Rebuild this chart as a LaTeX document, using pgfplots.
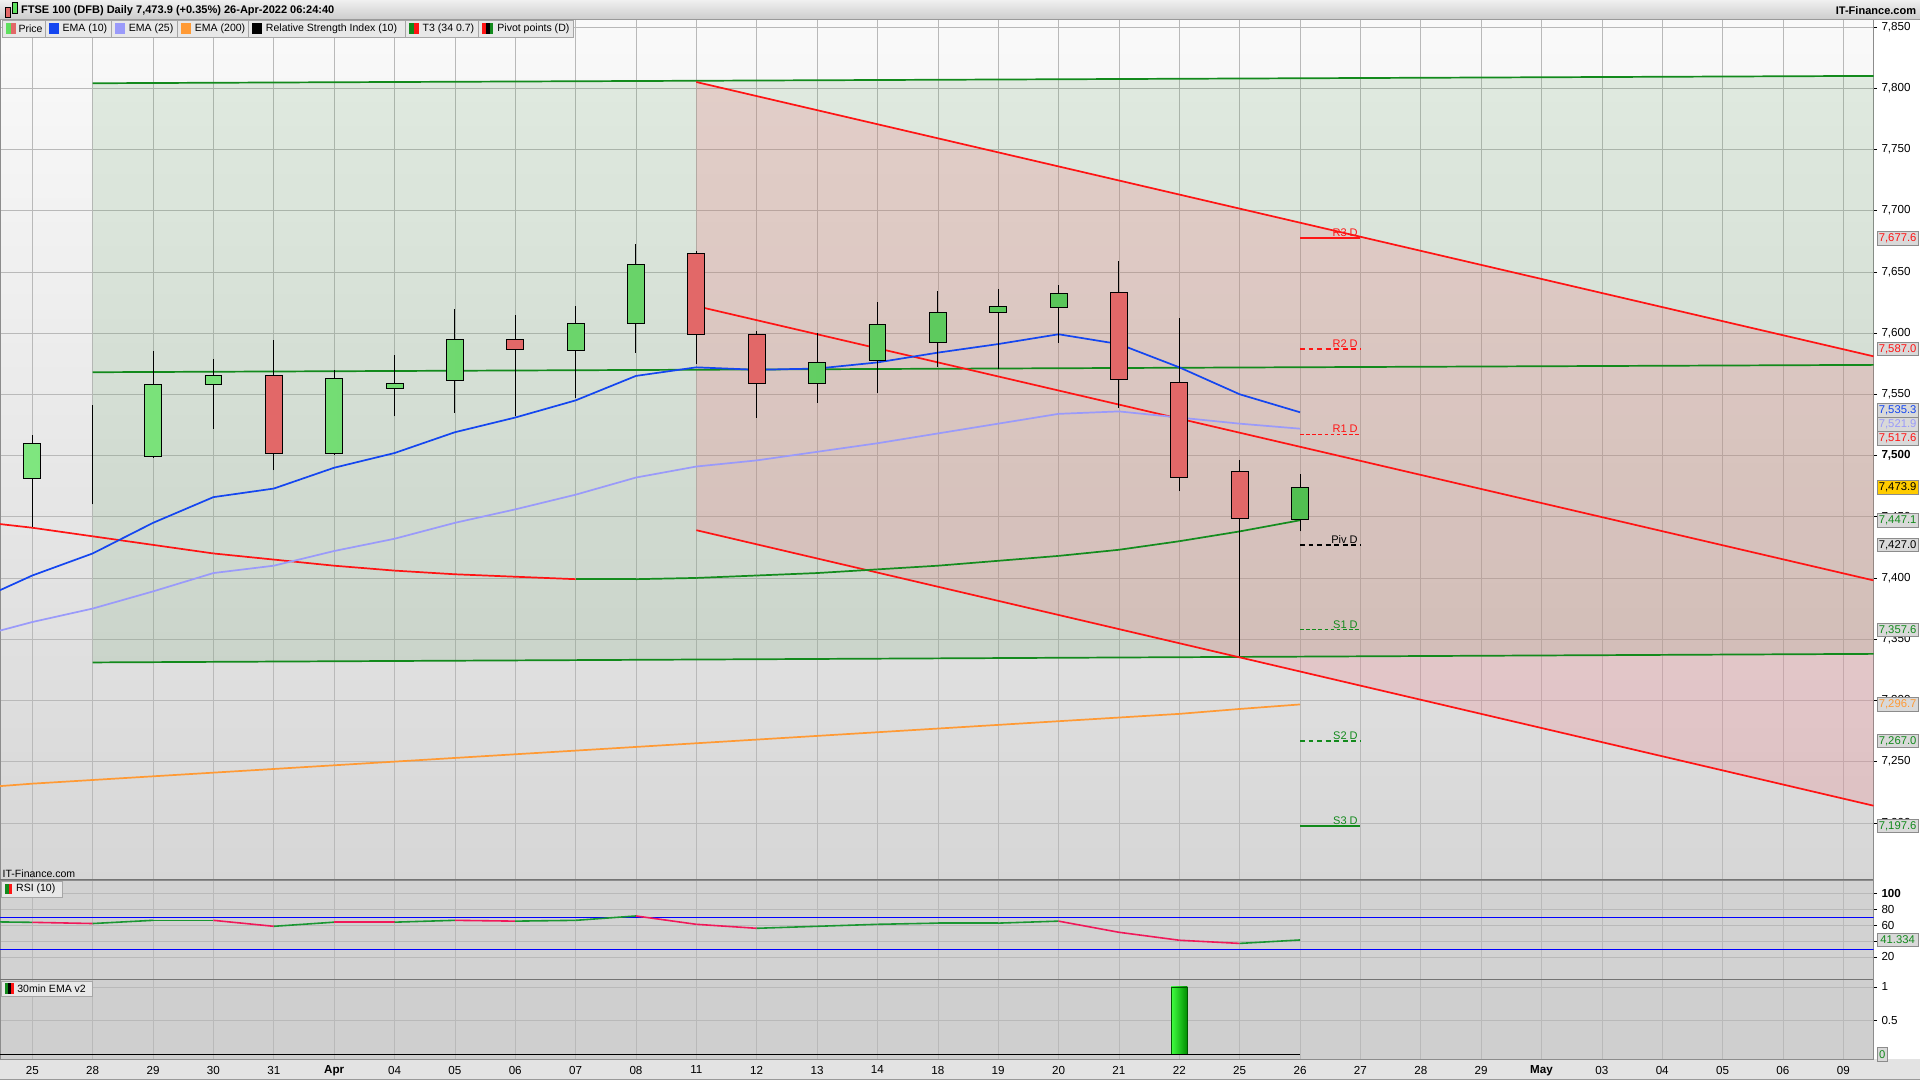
\documentclass[border=0pt]{standalone}
\usepackage{pgfplots}
\pgfplotsset{compat=1.18}
\usepackage{pgfplotstable}
\usepackage{fontspec}
\setmainfont{Liberation Sans}

\definecolor{gridc}{HTML}{B9B9B9}
\definecolor{ematen}{HTML}{1446F0}
\definecolor{ematwf}{HTML}{9A9AFA}
\definecolor{ematwo}{HTML}{FF9A35}
\definecolor{lgreen}{HTML}{128A1C}
\definecolor{lred}{HTML}{FF1414}
\definecolor{cgreen}{HTML}{5FE05F}
\definecolor{cred}{HTML}{E26868}
\definecolor{zgreen}{HTML}{589B58}
\definecolor{zred}{HTML}{F0707A}
\definecolor{panelc}{HTML}{D2D2D2}
\definecolor{boxc}{HTML}{D9D9D9}
\definecolor{gold}{HTML}{FFCC00}

% daily candles, index 0 = 25 Mar 2022
\pgfplotstableread{
i o h l c
0 7481 7517 7442 7510
1 7500 7541 7460 7500
2 7499 7585 7498 7558
3 7558 7579 7522 7565
4 7565 7594 7488 7502
5 7502 7570 7500 7563
6 7555 7582 7532 7559
7 7561 7620 7535 7595
8 7595 7615 7532 7587
9 7586 7622 7547 7608
10 7608 7673 7584 7656
11 7665 7667 7575 7599
12 7599 7602 7531 7559
13 7559 7600 7543 7576
14 7578 7625 7551 7607
15 7592 7634 7572 7617
16 7617 7636 7571 7622
17 7621 7639 7592 7632
18 7633 7659 7539 7562
19 7560 7612 7471 7482
20 7487 7496.4 7336.4 7448.2
21 7447.8 7485 7438 7473.9
}\candles

% indicators (tm, rm: colour of the following segment, 0 red / 1 green)
\pgfplotstableread{
i      e10    e25    e200   t3     tm rsi    rm
-0.535 7390   7357   7230   7444   0  64.0   1
0      7402   7364   7232   7441   0  63.5   0
1      7420   7375   7235   7434   0  62.0   1
2      7445   7389   7238   7427   0  66.0   1
3      7466   7404   7241   7420   0  66.0   0
4      7473   7410   7244   7415   0  58.5   1
5      7490   7422   7247   7410   0  63.7   0
6      7502   7432   7250   7406   0  63.7   1
7      7519   7445   7253   7403   0  66.0   0
8      7531   7456   7256   7401   0  65.0   1
9      7545   7468   7259   7399   1  66.0   1
10     7565   7482   7262   7399   1  71.5   0
11     7572   7491   7265   7400   1  61.0   0
12     7570   7496   7268   7402   1  56.0   1
13     7571   7503   7271   7404   1  58.5   1
14     7576   7510   7274   7407   1  61.0   1
15     7584   7518   7277   7410   1  62.5   1
16     7591   7526   7280   7414   1  62.5   1
17     7599   7534   7283   7418   1  65.0   0
18     7591   7536   7286   7423   1  51.0   0
19     7572   7531   7289   7430   1  41.0   0
20     7550   7526   7293   7438   1  37.0   1
21     7535.3 7521.9 7296.7 7447.1 1  41.334 1
}\ind

\pgfplotsset{
  panel/.style={scale only axis, anchor=south west, at={(0pt,0pt)}, width=1530pt,
    xmin=-0.535, xmax=30.5,
    xtick={0,...,30}, xticklabels={}, xtick style={draw=none},
    ytick pos=right, yticklabel pos=right, tick align=outside,
    major tick length=3pt, ytick style={black, thin},
    grid=major, major grid style={gridc, line width=0.5pt},
    axis line style={draw=black!45},
    tick label style={font=\fontsize{9.5}{10}\selectfont},
    clip mode=individual},
}
\tikzset{
  vbox/.style={draw=black!45, fill=boxc, inner sep=0.8pt, anchor=west, xshift=3pt,
    font=\fontsize{9.2}{10}\selectfont, minimum width=33pt, minimum height=11pt},
  piv/.style={anchor=south east, inner sep=1pt, xshift=-1pt, font=\fontsize{9}{10}\selectfont},
  lb/.style={fill=black!9, draw=black!35, line width=0.5pt},
  lt/.style={anchor=west, inner sep=0pt, font=\fontsize{8.6}{9}\selectfont},
}

\begin{document}
\begin{tikzpicture}[x=1pt,y=1pt]
\fill[black!15] (0,0) rectangle (1568,882);
\fill[white] (1530,17) rectangle (1568,866);
\fill[black!11] (0,0) rectangle (1568,17);

% ---------------- price panel ----------------
\begin{scope}[shift={(0pt,164pt)}]
\begin{axis}[panel, height=702pt,
  ymin=7154, ymax=7856,
  axis background/.style={shade, top color=black!2, bottom color=black!16},
  ytick={7200,7250,...,7850},
  yticklabels={{7,200},{7,250},{7,300},{7,350},{7,400},{7,450},{\textbf{7,500}},{7,550},{7,600},{7,650},{7,700},{7,750},{7,800},{7,850}},
  colormap={tt}{rgb255=(255,20,20) rgb255=(20,140,30)},
  point meta min=0, point meta max=1]
  % channel zones
  \addplot [draw=none, fill=zgreen, fill opacity=0.15] coordinates {(1,7331) (30.5,7338) (30.5,7810) (1,7804)} -- cycle;
  \addplot [draw=none, fill=zred, fill opacity=0.22] coordinates {(11,7439) (30.5,7214) (30.5,7581) (11,7805)} -- cycle;
  % horizontal channel
  \addplot [lgreen, line width=1.4pt] coordinates {(1,7804) (30.5,7810)};
  \addplot [lgreen, line width=1.4pt] coordinates {(1,7568) (30.5,7574)};
  \addplot [lgreen, line width=1.4pt] coordinates {(1,7331) (30.5,7338)};
  % falling channel
  \addplot [lred, line width=1.4pt] coordinates {(11,7805) (30.5,7581)};
  \addplot [lred, line width=1.4pt] coordinates {(11,7622) (30.5,7398)};
  \addplot [lred, line width=1.4pt] coordinates {(11,7439) (30.5,7214)};
  % T3, EMAs
  \addplot [mesh, shader=flat corner, point meta=explicit, line width=1.4pt] table [x=i, y=t3, meta=tm] \ind;
  \addplot [ematwo, line width=1.4pt] table [x=i, y=e200] \ind;
  \addplot [ematwf, line width=1.4pt] table [x=i, y=e25] \ind;
  \addplot [ematen, line width=1.4pt] table [x=i, y=e10] \ind;
  % pivot points
  \addplot [lred, line width=1.4pt] coordinates {(21,7677.6) (22,7677.6)};
  \addplot [lred, line width=1.4pt, dash pattern=on 4pt off 3pt] coordinates {(21,7587.0) (22,7587.0)};
  \addplot [lred, line width=0.7pt, dash pattern=on 3pt off 2pt] coordinates {(21,7517.6) (22,7517.6)};
  \addplot [black, line width=1.4pt, dash pattern=on 4pt off 3pt] coordinates {(21,7427.0) (22,7427.0)};
  \addplot [lgreen, line width=0.7pt, dash pattern=on 3pt off 2pt] coordinates {(21,7357.6) (22,7357.6)};
  \addplot [lgreen, line width=1.4pt, dash pattern=on 4pt off 3pt] coordinates {(21,7267.0) (22,7267.0)};
  \addplot [lgreen, line width=1.4pt] coordinates {(21,7197.6) (22,7197.6)};
  \node[piv, text=lred] at (axis cs:22,7677.6) {R3 D};
  \node[piv, text=lred] at (axis cs:22,7587.0) {R2 D};
  \node[piv, text=lred] at (axis cs:22,7517.6) {R1 D};
  \node[piv, text=black] at (axis cs:22,7427.0) {Piv D};
  \node[piv, text=lgreen] at (axis cs:22,7357.6) {S1 D};
  \node[piv, text=lgreen] at (axis cs:22,7267.0) {S2 D};
  \node[piv, text=lgreen] at (axis cs:22,7197.6) {S3 D};
  % wicks
  \addplot [draw=none, error bars/.cd, y dir=plus, y explicit, error mark=none,
    error bar style={draw=black, solid, line width=0.8pt}]
    table [x=i, y=l, y error expr=\thisrow{h}-\thisrow{l}] \candles;
\end{axis}

% candle bodies on top
\begin{axis}[panel, height=702pt, ymin=7154, ymax=7856,
  hide axis, ybar stacked, bar width=0.28]
  \addplot [draw=none, fill=none] table [x=i, y expr={min(\thisrow{o},\thisrow{c})}] \candles;
  \addplot [draw=black, line width=0.7pt, left color=cgreen!80!white, right color=cgreen!85!black] table [x=i, y expr={max(\thisrow{c}-\thisrow{o},0)}] \candles;
  \addplot [draw=black, line width=0.7pt, fill=cred] table [x=i, y expr={max(\thisrow{o}-\thisrow{c},0)}] \candles;
  \node[vbox, text=lred] at (axis cs:30.5,7677.6) {7,677.6};
  \node[vbox, text=lred] at (axis cs:30.5,7587.0) {7,587.0};
  \node[vbox, text=ematen] at (axis cs:30.5,7537) {7,535.3};
  \node[vbox, text=ematwf] at (axis cs:30.5,7525.5) {7,521.9};
  \node[vbox, text=lred] at (axis cs:30.5,7514) {7,517.6};
  \node[vbox, text=black, fill=gold] at (axis cs:30.5,7473.9) {7,473.9};
  \node[vbox, text=lgreen] at (axis cs:30.5,7447.1) {7,447.1};
  \node[vbox, text=black] at (axis cs:30.5,7427.0) {7,427.0};
  \node[vbox, text=lgreen] at (axis cs:30.5,7357.6) {7,357.6};
  \node[vbox, text=ematwo] at (axis cs:30.5,7296.7) {7,296.7};
  \node[vbox, text=lgreen] at (axis cs:30.5,7267.0) {7,267.0};
  \node[vbox, text=lgreen] at (axis cs:30.5,7197.6) {7,197.6};
\end{axis}
\end{scope}

% ---------------- RSI panel ----------------
\begin{scope}[shift={(0pt,82pt)}]
\begin{axis}[panel, height=81pt,
  ymin=-8.46, ymax=116.2,
  axis background/.style={fill=panelc},
  ytick={20,40,60,80,100}, yticklabels={20,,60,80,\textbf{100}},
  colormap={rg}{rgb255=(240,25,90) rgb255=(26,150,50)},
  point meta min=0, point meta max=1]
  \addplot [blue, line width=0.6pt] coordinates {(-0.535,70) (30.5,70)};
  \addplot [blue, line width=0.6pt] coordinates {(-0.535,30) (30.5,30)};
  \addplot [mesh, shader=flat corner, point meta=explicit, line width=1.3pt] table [x=i, y=rsi, meta=rm] \ind;
  \node[vbox, text=lgreen] at (axis cs:30.5,41.334) {41.334};
\end{axis}
\end{scope}

% ---------------- 30min EMA v2 panel ----------------
\begin{scope}[shift={(0pt,17pt)}]
\begin{axis}[panel, height=65pt,
  ymin=-0.0727, ymax=1.109,
  axis background/.style={fill=black!19},
  ytick={0.5,1}, yticklabels={0.5,1},
  xticklabels={25,28,29,30,31,\textbf{Apr},04,05,06,07,08,11,12,13,14,18,19,20,21,22,25,26,27,28,29,\textbf{May},03,04,05,06,09},
  xticklabel style={yshift=1pt}]
  \addplot [ybar, bar width=0.27, draw=green!35!black, line width=0.6pt,
    left color=green!75!white, right color=green!55!black] coordinates {(19,1)};
  \addplot [black, line width=0.9pt] coordinates {(-0.535,0) (21,0)};
  \node[vbox, text=lgreen, minimum width=8pt] at (axis cs:30.5,0) {0};
\end{axis}
\end{scope}

% ---------------- header and legend ----------------
\shade[top color=black!6, bottom color=black!20] (0,866) rectangle (1568,882);
\draw[black!40] (0,866) -- (1568,866);
\fill[cred] (4,868) rectangle (8,876); \draw[black, line width=0.4pt] (4,868) rectangle (8,876);
\fill[cgreen] (10,871) rectangle (14,880); \draw[black, line width=0.4pt] (10,871) rectangle (14,880);
\node[anchor=west, font=\bfseries\fontsize{9}{10}\selectfont, inner sep=0pt] at (17,873.5)
  {FTSE 100 (DFB) Daily 7,473.9 (+0.35\%) 26-Apr-2022 06:24:40};
\node[anchor=east, font=\bfseries\fontsize{9}{10}\selectfont, inner sep=0pt] at (1565,873.5) {IT-Finance.com};

% Price
\draw[lb] (2,851.5) rectangle (37,865.5);
\fill[cgreen] (5,854) rectangle (9,863); \fill[cred] (9,854) rectangle (13,863);
\node[lt] at (15,858.5) {Price};
% EMA 10
\draw[lb] (37,851.5) rectangle (91,865.5);
\fill[ematen] (40,854) rectangle (48,863);
\node[lt] at (51,858.5) {EMA (10)};
% EMA 25
\draw[lb] (91,851.5) rectangle (145,865.5);
\fill[ematwf] (94,854) rectangle (102,863);
\node[lt] at (105,858.5) {EMA (25)};
% EMA 200
\draw[lb] (145,851.5) rectangle (203,865.5);
\fill[ematwo] (148,854) rectangle (156,863);
\node[lt] at (159,858.5) {EMA (200)};
% RSI
\draw[lb] (203,851.5) rectangle (331,865.5);
\fill[black] (206,854) rectangle (214,863);
\node[lt] at (217,858.5) {Relative Strength Index (10)};
% T3
\draw[lb] (331,851.5) rectangle (391,865.5);
\fill[lgreen] (334,854) rectangle (338,863); \fill[lred] (338,854) rectangle (342,863);
\node[lt] at (345,858.5) {T3 (34 0.7)};
% Pivots
\draw[lb] (391,851.5) rectangle (468,865.5);
\fill[lred] (394,854) rectangle (397,863); \fill[black] (397,854) rectangle (400,863); \fill[lgreen] (400,854) rectangle (403,863);
\node[lt] at (406,858.5) {Pivot points (D)};

% panel captions
\node[anchor=west, inner sep=0pt, font=\fontsize{8.6}{9}\selectfont] at (2,168.5) {IT-Finance.com};
\draw[black!55, line width=0.8pt] (0,163.5) -- (1530,163.5);
\draw[black!55, line width=0.8pt] (0,82) -- (1530,82);
\draw[lb] (1,149.5) rectangle (51,162);
\fill[lgreen] (4,151.5) rectangle (7,160); \fill[lred] (7,151.5) rectangle (10,160);
\node[lt] at (13,155.8) {RSI (10)};
\draw[lb] (1,68.5) rectangle (75,81);
\fill[lgreen] (4,70.5) rectangle (6.5,79); \fill[black] (6.5,70.5) rectangle (9,79); \fill[lred] (9,70.5) rectangle (11.5,79);
\node[lt] at (14,74.8) {30min EMA v2};
\draw[black!40] (0,0.5) -- (1568,0.5);

\pgfresetboundingbox
\useasboundingbox (0,0) rectangle (1568,882);
\end{tikzpicture}
\end{document}
